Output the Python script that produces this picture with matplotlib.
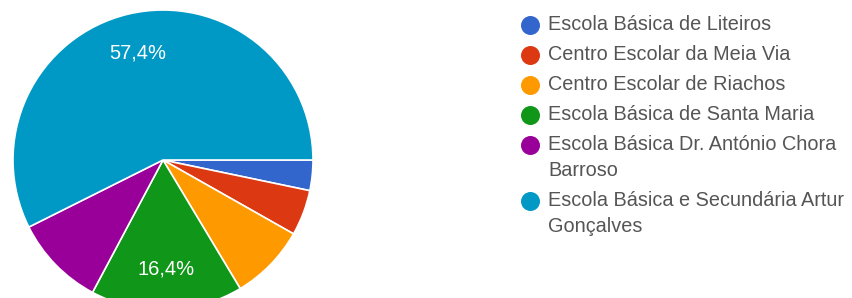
import textwrap
import matplotlib.pyplot as plt

# respostas por escola
escolas = [
    "Escola Básica de Liteiros",
    "Centro Escolar da Meia Via",
    "Centro Escolar de Riachos",
    "Escola Básica de Santa Maria",
    "Escola Básica Dr. António Chora Barroso",
    "Escola Básica e Secundária Artur Gonçalves",
]
respostas = [2, 3, 5, 10, 6, 35]
cores = ["#3366cc", "#dc3912", "#ff9900", "#109618", "#990099", "#0099c6"]

plt.rcParams['font.family'] = ['Liberation Sans', 'DejaVu Sans']

W, H = 852, 298
fig = plt.figure(figsize=(W / 100, H / 100), dpi=100)
ax = fig.add_axes([0, 0, 1, 1])
ax.set_xlim(0, W)
ax.set_ylim(0, H)
ax.set_aspect('equal')
ax.axis('off')


def pct(p):
    if p < 15:
        return ''
    return ('%.1f%%' % p).replace('.', ',')


wedges, _, autotexts = ax.pie(
    respostas, colors=cores, startangle=0, counterclock=False,
    center=(163, H - 160), radius=150, autopct=pct, pctdistance=0.73,
    wedgeprops=dict(edgecolor='white', linewidth=1.2),
    textprops=dict(color='white', fontsize=14.5),
)
ax.set_xlim(0, W)
ax.set_ylim(0, H)

# legenda manual
y = 25
for nome, cor in zip(escolas, cores):
    linhas = textwrap.wrap(nome, 32)
    ax.scatter([530], [H - y], s=160, color=cor, zorder=3)
    for k, linha in enumerate(linhas):
        ax.text(548, H - y - k * 26, linha, fontsize=14.3, color='#555555',
                va='center', ha='left')
    y += 30 + (len(linhas) - 1) * 26

fig.savefig('out.png', dpi=100)
